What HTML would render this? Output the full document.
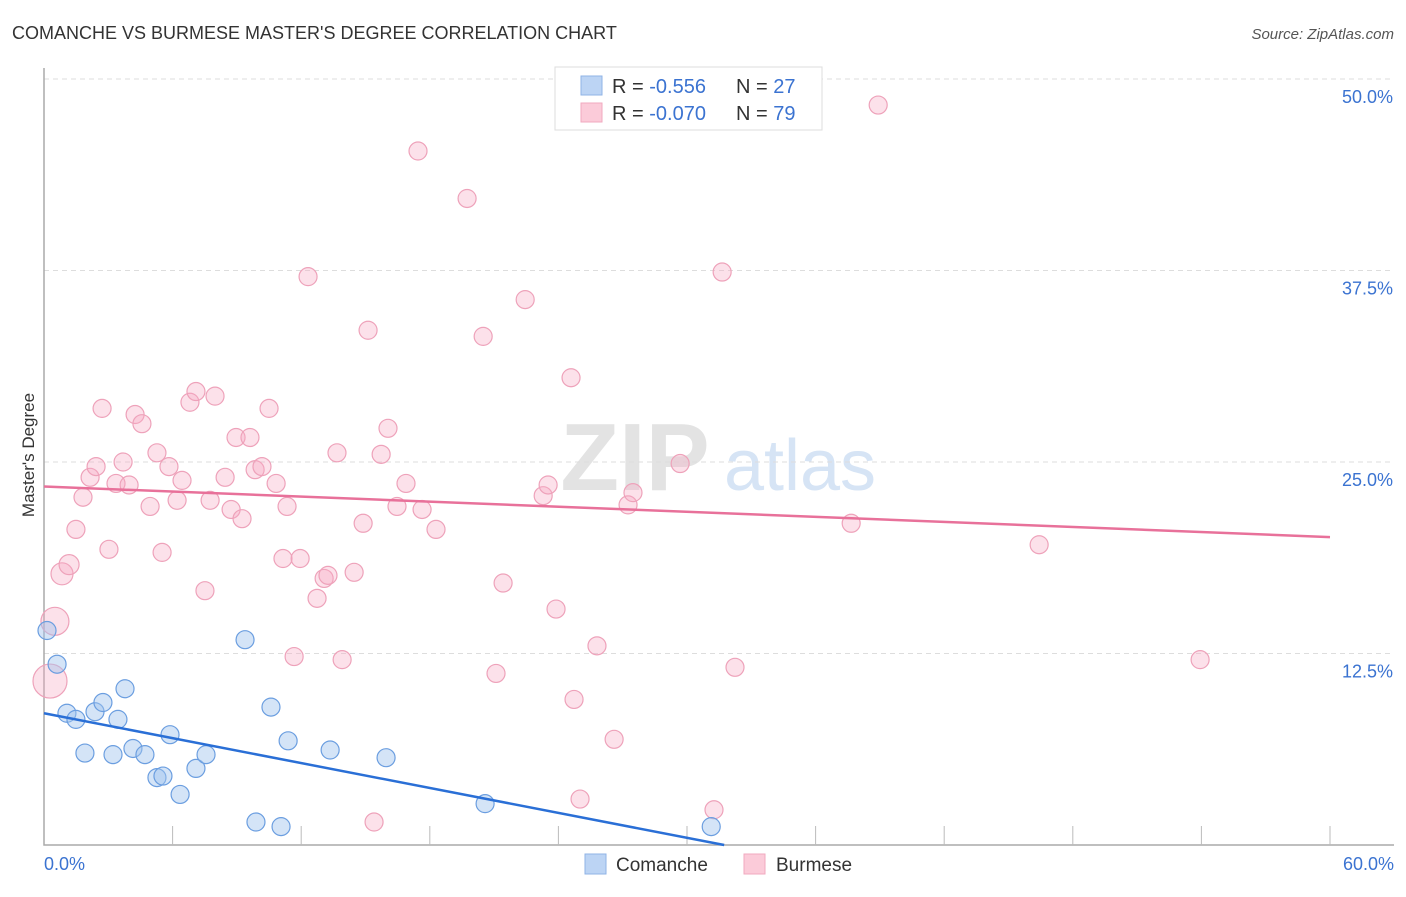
<!DOCTYPE html>
<html><head><meta charset="utf-8"><style>
body{margin:0;background:#fff;font-family:"Liberation Sans",sans-serif;}
svg text{font-family:"Liberation Sans",sans-serif;}
</style></head><body>
<svg id="chart" width="1406" height="892" xmlns="http://www.w3.org/2000/svg">
<text x="12" y="39" font-size="18" fill="#333">COMANCHE VS BURMESE MASTER'S DEGREE CORRELATION CHART</text>
<text x="1394" y="39" font-size="15" fill="#555" text-anchor="end" font-style="italic">Source: ZipAtlas.com</text>
<text x="34" y="455" font-size="17" fill="#333" text-anchor="middle" transform="rotate(-90 34 455)">Master's Degree</text>
<g><text x="635" y="490" font-size="96" fill="#e3e3e3" text-anchor="middle" font-family="Liberation Serif" font-weight="bold">ZIP</text><text x="800" y="490" font-size="72" fill="#d6e4f5" text-anchor="middle">atlas</text></g>
<g id="grid"></g><g id="axes"></g><g id="marks"></g>
<g>
<rect x="555" y="67" width="267" height="63" fill="#fff" stroke="#ddd"/>
<rect x="581" y="76" width="21" height="19" fill="#bcd4f4" stroke="#8fb3e6"/>
<rect x="581" y="103" width="21" height="19" fill="#fbcbd9" stroke="#f0a9bf"/>
<text x="612" y="93" font-size="20" fill="#333">R = <tspan fill="#3b73d1">-0.556</tspan><tspan x="736">N = </tspan><tspan fill="#3b73d1">27</tspan></text>
<text x="612" y="120" font-size="20" fill="#333">R = <tspan fill="#3b73d1">-0.070</tspan><tspan x="736">N = </tspan><tspan fill="#3b73d1">79</tspan></text>
</g>
<g>
<rect x="585" y="854" width="21" height="20" fill="#bcd4f4" stroke="#8fb3e6"/>
<text x="616" y="871" font-size="19" fill="#333">Comanche</text>
<rect x="744" y="854" width="21" height="20" fill="#fbcbd9" stroke="#f0a9bf"/>
<text x="776" y="871" font-size="19" fill="#333">Burmese</text>
</g>
</svg>
<script>
const yTicks=[12.5,25,37.5,50];
const yTickLabels=["12.5%","25.0%","37.5%","50.0%"];
const xEndLabels=["0.0%","60.0%"];
const comancheX=[0.14,0.61,1.07,1.49,1.91,2.38,2.75,3.22,3.45,3.78,4.15,4.71,5.27,5.55,5.88,6.35,7.09,7.56,9.38,9.89,10.59,11.06,11.39,13.35,15.96,20.58,31.13];
const comancheY=[14.0,11.8,8.6,8.2,6.0,8.7,9.3,5.9,8.2,10.2,6.3,5.9,4.4,4.5,7.2,3.3,5.0,5.9,13.4,1.5,9.0,1.2,6.8,6.2,5.7,2.7,1.2];
const burmeseX=[0.51,0.28,0.84,1.17,1.49,1.82,2.15,2.43,2.71,3.03,3.36,3.69,3.97,4.25,4.57,4.95,5.27,5.51,5.83,6.21,6.44,6.81,7.09,7.51,7.75,7.98,8.45,8.73,8.96,9.24,9.61,9.85,10.17,10.5,10.83,11.15,11.34,11.67,11.95,12.32,12.74,13.07,13.25,13.67,13.91,14.47,14.89,15.12,15.4,15.73,16.05,16.47,16.89,17.45,17.64,18.29,19.74,20.49,21.09,21.42,22.45,23.29,23.52,23.89,24.59,24.73,25.01,25.8,26.6,27.25,27.48,29.68,31.26,31.64,32.24,37.66,38.92,46.43,53.94];
const burmeseY=[14.6,10.7,17.7,18.3,20.6,22.7,24.0,24.7,28.5,19.3,23.6,25.0,23.5,28.1,27.5,22.1,25.6,19.1,24.7,22.5,23.8,28.9,29.6,16.6,22.5,29.3,24.0,21.9,26.6,21.3,26.6,24.5,24.7,28.5,23.6,18.7,22.1,12.3,18.7,37.1,16.1,17.4,17.6,25.6,12.1,17.8,21.0,33.6,1.5,25.5,27.2,22.1,23.6,45.3,21.9,20.6,42.2,33.2,11.2,17.1,35.6,22.8,23.5,15.4,30.5,9.5,3.0,13.0,6.9,22.2,23.0,24.9,2.3,37.4,11.6,21.0,48.3,19.6,12.1];
const burmeseR=[14,17,11,10,9,9,9,9,9,9,9,9,9,9,9,9,9,9,9,9,9,9,9,9,9,9,9,9,9,9,9,9,9,9,9,9,9,9,9,9,9,9,9,9,9,9,9,9,9,9,9,9,9,9,9,9,9,9,9,9,9,9,9,9,9,9,9,9,9,9,9,9,9,9,9,9,9,9,9];
const comancheTrend=[8.6,-0.271];
const burmeseTrend=[23.4,-0.055];
const xs=v=>44+v*(1286/60), ys=v=>845-v*(191.5/12.5);
const NS="http://www.w3.org/2000/svg";
function mk(t,a,p){const e=document.createElementNS(NS,t);for(const k in a)e.setAttribute(k,a[k]);p.appendChild(e);return e;}
const grid=document.getElementById('grid'),axes=document.getElementById('axes'),marks=document.getElementById('marks');
yTicks.forEach((t,i)=>{
 const l=mk('line',{x1:44,x2:1394,y1:ys(t),y2:ys(t),stroke:'#ddd','stroke-dasharray':'5,4'},grid);
 
 
 const tx=mk('text',{x:1393,y:ys(t)+24,'font-size':18,fill:'#3b73d1','text-anchor':'end'},axes);tx.textContent=yTickLabels[i];
 
 
});
const ax=mk('path',{d:'M44 68V845H1394',fill:'none',stroke:'#aaa','stroke-width':1.5},axes);


for(let i=1;i<=10;i++){const t=mk('line',{x1:xs(i*6),x2:xs(i*6),y1:826,y2:845,stroke:'#bbb'},axes);
 
 }
const x0=mk('text',{x:44,y:870,'font-size':18,fill:'#3b73d1'},axes);x0.textContent=xEndLabels[0];


const x1=mk('text',{x:1394,y:870,'font-size':18,fill:'#3b73d1','text-anchor':'end'},axes);x1.textContent=xEndLabels[1];


burmeseX.forEach((x,i)=>{const c=mk('circle',{cx:xs(x),cy:ys(burmeseY[i]),r:burmeseR[i],fill:'rgba(246,170,195,0.35)',stroke:'#eea2ba','stroke-width':1.2},marks);
 
 });
comancheX.forEach((x,i)=>{const c=mk('circle',{cx:xs(x),cy:ys(comancheY[i]),r:9,fill:'rgba(160,195,238,0.45)',stroke:'#6b9ee0','stroke-width':1.2},marks);
 
 });
const bx=-comancheTrend[0]/comancheTrend[1];
const tl1=mk('line',{x1:xs(0),y1:ys(comancheTrend[0]),x2:xs(bx),y2:ys(0),stroke:'#2a6fd6','stroke-width':2.5},marks);


const tl2=mk('line',{x1:xs(0),y1:ys(burmeseTrend[0]),x2:xs(60),y2:ys(burmeseTrend[0]+60*burmeseTrend[1]),stroke:'#e8719a','stroke-width':2.5},marks);


</script>
</body></html>
